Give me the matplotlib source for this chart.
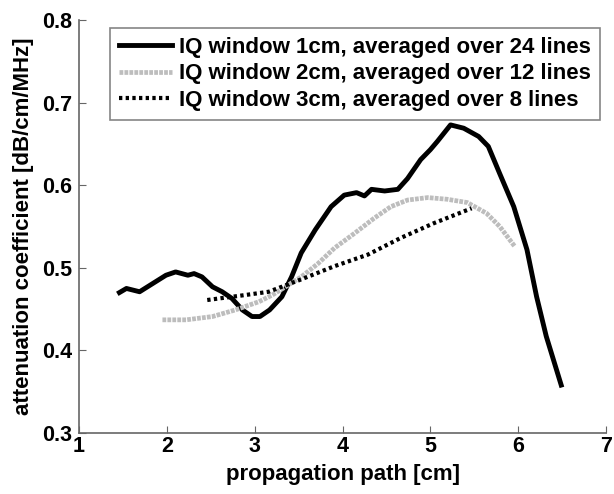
import matplotlib
matplotlib.use("Agg")
import matplotlib.pyplot as plt
import numpy as np

# IQ window 1cm, averaged over 24 lines
x1 = [1.46, 1.54, 1.69, 1.84, 1.99, 2.10, 2.24, 2.31, 2.40, 2.52, 2.63, 2.74,
      2.86, 2.97, 3.06, 3.17, 3.31, 3.42, 3.53, 3.69, 3.87, 4.02, 4.16, 4.25,
      4.33, 4.48, 4.63, 4.74, 4.89, 5.00, 5.08, 5.23, 5.38, 5.55, 5.66, 5.79,
      5.95, 6.10, 6.21, 6.32, 6.49]
y1 = [0.470, 0.475, 0.471, 0.481, 0.491, 0.495, 0.491, 0.493, 0.489, 0.477,
      0.471, 0.463, 0.449, 0.441, 0.441, 0.449, 0.465, 0.489, 0.518, 0.546,
      0.574, 0.588, 0.591, 0.587, 0.595, 0.593, 0.595, 0.608, 0.631, 0.643,
      0.653, 0.673, 0.669, 0.659, 0.647, 0.614, 0.574, 0.522, 0.465, 0.417,
      0.358]

# IQ window 2cm, averaged over 12 lines
x2 = [1.95, 2.22, 2.52, 2.78, 3.05, 3.20, 3.53, 3.72, 3.91, 4.14, 4.36, 4.55,
      4.74, 4.97, 5.19, 5.42, 5.64, 5.79, 5.96]
y2 = [0.437, 0.437, 0.441, 0.449, 0.459, 0.467, 0.489, 0.505, 0.524, 0.542,
      0.560, 0.574, 0.582, 0.585, 0.583, 0.579, 0.566, 0.550, 0.526]

# IQ window 3cm, averaged over 8 lines
x3 = [2.46, 2.89, 3.16, 3.53, 3.91, 4.29, 4.66, 5.04, 5.47]
y3 = [0.461, 0.467, 0.471, 0.486, 0.502, 0.516, 0.536, 0.554, 0.572]

labels = ["IQ window 1cm, averaged over 24 lines",
          "IQ window 2cm, averaged over 12 lines",
          "IQ window 3cm, averaged over 8 lines"]

plt.rcParams.update({"font.family": "Liberation Sans", "font.weight": "bold"})

fig = plt.figure(figsize=(6.14, 4.94), dpi=100)
ax = fig.add_axes([79 / 614, 61 / 494, 527 / 614, 413 / 494])

ax.plot(x1, y1, color="black", lw=3.5, label=labels[0])
ax.plot(x2, y2, color="#bdbdbd", lw=3.4, ls=(0, (0.8, 0.25)), label=labels[1])
ax.plot(x3, y3, color="black", lw=3.0, ls=(0, (0.8, 0.8)), label=labels[2])

ax.set_xlim(1, 7)
ax.set_ylim(0.3, 0.8)
ax.set_xticks(np.arange(1, 8))
ax.set_yticks([0.3, 0.4, 0.5, 0.6, 0.7, 0.8])
ax.set_yticklabels(["0.3", "0.4", "0.5", "0.6", "0.7", "0.8"])
ax.tick_params(direction="in", labelsize=15.5, length=5, color="#666666")
ax.tick_params(axis="x", pad=2)
ax.tick_params(axis="y", pad=5)
for s in ("top", "right"):
    ax.spines[s].set_visible(False)
for s in ("left", "bottom"):
    ax.spines[s].set_color("#666666")
    ax.spines[s].set_linewidth(1.2)

ax.set_xlabel("propagation path [cm]", fontsize=16, fontweight="bold", labelpad=5)
ax.set_ylabel("attenuation coefficient [dB/cm/MHz]", fontsize=16,
              fontweight="bold", labelpad=6)

leg = ax.legend(loc="upper right", bbox_to_anchor=(0.988, 0.981), fontsize=16,
                frameon=True, fancybox=False, handlelength=2.4,
                handletextpad=0.3, borderpad=0.4, labelspacing=0.25,
                borderaxespad=0.0)
leg.get_frame().set_edgecolor("#666666")
leg.get_frame().set_linewidth(1.2)
for t in leg.get_texts():
    t.set_fontweight("bold")

fig.savefig("out.png", dpi=100)
